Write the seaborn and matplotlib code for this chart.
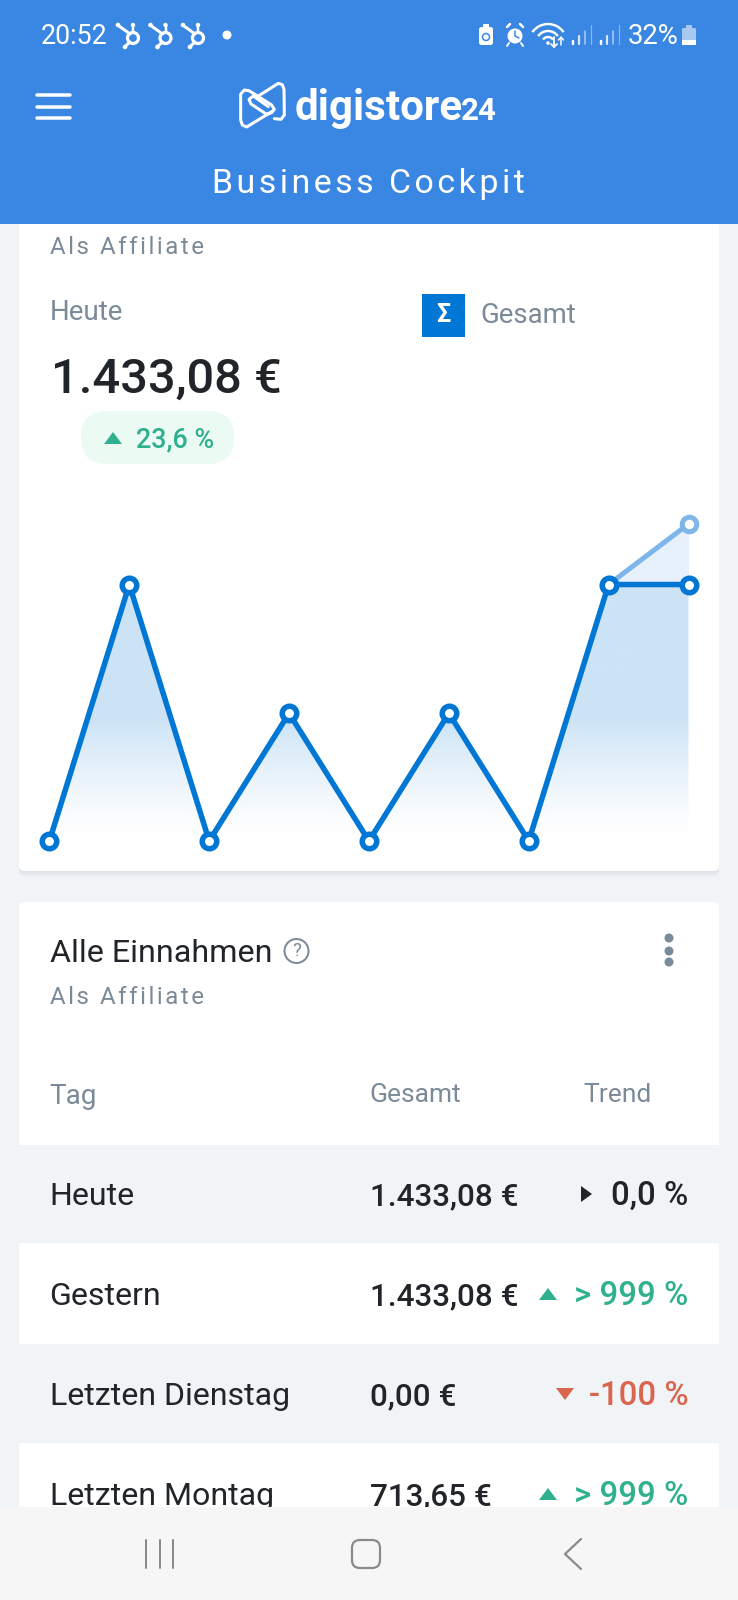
import numpy as np
import seaborn as sns
import matplotlib
matplotlib.use('Agg')
import matplotlib.pyplot as plt
from matplotlib.patches import Rectangle, FancyBboxPatch, Circle, Polygon, Arc

# ******************************
# Data
# ******************************
days = [0, 1, 2, 3, 4, 5, 6, 7, 8]
revenue = [0.0, 1433.08, 0.0, 713.65, 0.0, 713.65, 0.0, 1433.08, 1433.08]
projection_days = [7, 8]
projection = [1433.08, 1771.3]

row_labels = ['Heute', 'Gestern', 'Letzten Dienstag', 'Letzten Montag']
row_totals = ['1.433,08 €', '1.433,08 €', '0,00 €', '713,65 €']
row_trends = ['0,0 %', '> 999 %', '-100 %', '> 999 %']
row_dirs = ['flat', 'up', 'down', 'up']

# ******************************
# Style
# ******************************
W, H = 738, 1600
header_blue = '#3a86e3'
page_bg = '#f0f4f7'
line_blue = '#0077d4'
ghost_blue = '#7fb6e9'
ink = '#212529'
grey = '#7b8a99'
green = '#2fb08e'
red = '#d9654e'
dir_colors = {'flat': ink, 'up': green, 'down': red}

sns.set_theme(style='white')
plt.rcParams['font.family'] = ['Roboto', 'DejaVu Sans']

fig = plt.figure(figsize=(W / 100, H / 100), dpi=100, facecolor=page_bg)

# UI layer, in screen pixels
ui = fig.add_axes([0, 0, 1, 1], zorder=1)
ui.set_xlim(0, W)
ui.set_ylim(H, 0)
ui.axis('off')


def px(p):
    return p * 0.72


def txt(x, y, s, size, color=ink, ha='left', weight='normal', z=5):
    return ui.text(x, y, s, fontsize=size, color=color, ha=ha, va='baseline', fontweight=weight, zorder=z)


def spaced(s):
    return '\u200a'.join(s)


def triangle(cx, cy, kind, color):
    if kind == 'up':
        pts = [(cx - 9, cy + 6), (cx + 9, cy + 6), (cx, cy - 6)]
    elif kind == 'down':
        pts = [(cx - 9, cy - 6), (cx + 9, cy - 6), (cx, cy + 6)]
    else:
        pts = [(cx - 6, cy - 8), (cx - 6, cy + 8), (cx + 5, cy)]
    ui.add_patch(Polygon(pts, closed=True, facecolor=color, edgecolor='none', zorder=5))


def stroke(xs, ys, lw=3, color='white', z=6):
    ui.plot(xs, ys, color=color, lw=px(lw), solid_capstyle='round', solid_joinstyle='round', zorder=z)


# cards, the first one with a soft shadow below
for k in range(1, 7):
    ui.add_patch(FancyBboxPatch((19, 200), 700, 671 + k, boxstyle='round,pad=0,rounding_size=5',
                                facecolor='#7a8a9a', edgecolor='none', alpha=0.025, zorder=0.5))
ui.add_patch(FancyBboxPatch((19, 200), 700, 671, boxstyle='round,pad=0,rounding_size=5',
                            facecolor='white', edgecolor='none', zorder=1))
ui.add_patch(FancyBboxPatch((19, 902), 700, 660, boxstyle='round,pad=0,rounding_size=5',
                            facecolor='white', edgecolor='none', zorder=1))
ui.add_patch(Rectangle((19, 1145), 700, 98, facecolor=page_bg, edgecolor='none', zorder=1.5))
ui.add_patch(Rectangle((19, 1344), 700, 99, facecolor=page_bg, edgecolor='none', zorder=1.5))

# header
ui.add_patch(Rectangle((0, 0), W, 224, facecolor=header_blue, edgecolor='none', zorder=3))
txt(41, 44, '20:52', 19.3, 'white', z=6)
for hx in [133, 165.5, 198]:
    ui.add_patch(Circle((hx, 38), 5.5, facecolor='none', edgecolor='white', lw=px(3.2), zorder=6))
    stroke([hx - 14, hx - 3], [26, 34], 3)
    stroke([hx, hx], [26, 32], 2.5)
    stroke([hx - 8, hx - 3], [46.5, 42], 3)
    ui.add_patch(Circle((hx - 15, 25), 2.3, facecolor='white', edgecolor='none', zorder=6))
    ui.add_patch(Circle((hx - 8, 47), 2.3, facecolor='white', edgecolor='none', zorder=6))
    ui.add_patch(Circle((hx, 25), 2.2, facecolor='white', edgecolor='none', zorder=6))
ui.add_patch(Circle((227, 35), 4.5, facecolor='white', edgecolor='none', zorder=6))

# status icons on the right
ui.add_patch(FancyBboxPatch((479, 27), 14, 18, boxstyle='round,pad=0,rounding_size=2.5',
                            facecolor='white', edgecolor='none', zorder=6))
ui.add_patch(Rectangle((483, 24), 6, 4, facecolor='white', edgecolor='none', zorder=6))
ui.add_patch(Circle((486, 37), 3.5, facecolor='none', edgecolor=header_blue, lw=px(1.5), zorder=7))
ui.add_patch(Circle((515, 36), 7.5, facecolor='white', edgecolor='none', zorder=6))
stroke([515, 515, 519], [31, 36, 38], 1.5, header_blue, 7)
stroke([507, 510], [27, 24], 2.5)
stroke([523, 520], [27, 24], 2.5)
stroke([509, 507], [43, 46], 2)
stroke([521, 523], [43, 46], 2)
for r in [6, 12, 19]:
    ui.add_patch(Arc((548, 43), 2 * r, 2 * r, theta1=215, theta2=325, edgecolor='white', lw=px(2.4), zorder=6))
ui.add_patch(Circle((548, 43), 1.8, facecolor='white', edgecolor='none', zorder=6))
stroke([554, 554], [37, 47], 1.8)
stroke([551, 554, 557], [44, 47, 44], 1.8)
stroke([561, 561], [38, 45], 1.5)
stroke([558.5, 561, 563.5], [40, 37, 40], 1.5)
for bx0 in [573, 601]:
    stroke([bx0, bx0], [41, 44], 2.5)
    stroke([bx0 + 6, bx0 + 6], [36, 44], 2.2, '#d8e7f9')
    stroke([bx0 + 12, bx0 + 12], [31, 44], 1.6, '#a9c8f0')
    stroke([bx0 + 18, bx0 + 18], [25, 44], 1.2, '#8db7ec')
txt(628, 44, '32%', 19.8, 'white', z=6)
ui.add_patch(FancyBboxPatch((682, 28), 14, 17, boxstyle='round,pad=0,rounding_size=1.5',
                            facecolor='#a9c8f0', edgecolor='none', zorder=6))
ui.add_patch(Rectangle((686, 25), 6, 3, facecolor='#a9c8f0', edgecolor='none', zorder=6))
ui.add_patch(Rectangle((682, 40), 14, 5, facecolor='white', edgecolor='none', zorder=6.5))

# hamburger, logo, title
for hy in [95, 107, 118]:
    stroke([37, 70], [hy, hy], 3.5)


def logo_line(pts, lw=3):
    xs = [225 + p[0] / 3 for p in pts]
    ys = [70 + p[1] / 3 for p in pts]
    stroke(xs, ys, lw)


logo_line([(140, 125), (65, 171), (52, 165), (47, 150), (47, 72), (58, 60), (72, 62), (140, 105), (148, 118), (140, 128), (125, 133), (78, 102), (72, 88), (85, 78)])
logo_line([(100, 78), (160, 40), (172, 44), (177, 58), (178, 135), (168, 148), (148, 146)])
logo_line([(85, 78), (130, 110)])
txt(295, 120, 'digistore', 30.3, 'white', weight='bold', z=6)
txt(461, 120, '24', 22.5, 'white', weight='bold', z=6)
txt(368.5, 193, spaced('Business Cockpit'), 24.4, 'white', ha='center', z=6)

# first card text
txt(50, 254, spaced('Als Affiliate'), 17.4, grey, z=2)
txt(50, 320, 'Heute', 20, grey)
ui.add_patch(Rectangle((422, 294), 43, 43, facecolor=line_blue, edgecolor='none', zorder=2))
ui.text(443.5, 315.5, 'Σ', fontsize=18, color='white', fontweight='bold', ha='center', va='center', zorder=5)
txt(480, 323, 'Gesamt', 19.8, grey)
txt(51, 393, '1.433,08 €', 35.2, ink, weight='medium')
ui.add_patch(FancyBboxPatch((81, 411), 153, 53, boxstyle='round,pad=0,rounding_size=26', facecolor='#ebfbf3',
                            edgecolor='none', zorder=2))
triangle(113, 438, 'up', green)
txt(136, 447, '23,6 %', 19.4, green, weight='medium')

# second card text
txt(50, 962, 'Alle Einnahmen', 23.2, ink)
ui.add_patch(Circle((296.5, 951), 12, facecolor='none', edgecolor=grey, lw=px(2), zorder=5))
ui.text(296.5, 951, '?', fontsize=13.5, color=grey, ha='center', va='center', zorder=5)
for dy in [938, 951, 962]:
    ui.add_patch(Circle((669, dy), 4.5, facecolor=grey, edgecolor='none', zorder=5))
txt(50, 1004, spaced('Als Affiliate'), 17.4, grey)
txt(49.5, 1104, 'Tag', 20, grey)
txt(369, 1102, 'Gesamt', 19, grey)
txt(583, 1102, 'Trend', 19, grey)

# table rows
row_base = [1205, 1305, 1405, 1505]
tri_x = {'flat': 587, 'up': 548, 'down': 565}
for label, total, trend, kind, base in zip(row_labels, row_totals, row_trends, row_dirs, row_base):
    txt(49.5, base, label, 23.1, ink)
    txt(369.5, base, total, 22.6, ink, weight='medium')
    txt(688.5, base, trend, 23.8, dir_colors[kind], ha='right', weight='medium')
    triangle(tri_x[kind], base - 11, kind, dir_colors[kind])

# nav bar
ui.add_patch(Rectangle((0, 1507), W, 93, facecolor='#f6f6f6', edgecolor='none', zorder=8))
for nx in [146, 159.5, 173]:
    stroke([nx, nx], [1540, 1568], 2, '#8a8a8a', 9)
ui.add_patch(FancyBboxPatch((352, 1540), 28, 28, boxstyle='round,pad=0,rounding_size=8', facecolor='none',
                            edgecolor='#8a8a8a', lw=px(2.2), zorder=9))
stroke([581, 565, 581], [1539, 1554, 1569], 2.2, '#8a8a8a', 9)

# ******************************
# Chart
# ******************************
ax = fig.add_axes([49.4 / W, 1 - 841 / H, 639.1 / W, 317 / H], zorder=2)
ax.patch.set_alpha(0)
ax.axis('off')

# fade under the line
stops = np.linspace(0, 1, 256)
alpha = 0.2 * np.clip(stops / 0.38, 0, 1) ** 1.3
grad = np.zeros((256, 1, 4))
grad[:, 0, :3] = matplotlib.colors.to_rgb(line_blue)
grad[:, 0, 3] = alpha
area = ax.fill_between(days, revenue, 0, color='none', linewidth=0)
img = ax.imshow(grad, extent=(0, 8, 0, 1771.3), origin='lower', aspect='auto', zorder=1)
img.set_clip_path(area.get_paths()[0], transform=ax.transData)
ax.fill_between(projection_days, [revenue[7], revenue[8]], projection, color='#e6f1fb', linewidth=0, zorder=1)

sns.lineplot(x=projection_days, y=projection, ax=ax, color=ghost_blue, lw=px(5), marker='o', markersize=px(14.5),
             markerfacecolor='white', markeredgecolor=ghost_blue, markeredgewidth=px(5), clip_on=False, zorder=3)
sns.lineplot(x=days, y=revenue, ax=ax, color=line_blue, lw=px(5.5), marker='o', markersize=px(14.5),
             markerfacecolor='white', markeredgecolor=line_blue, markeredgewidth=px(5.5), clip_on=False, zorder=4)

ax.set_xlim(0, 8)
ax.set_ylim(0, 1771.3)
ax.axis('off')

fig.savefig('out.png', dpi=100, facecolor=page_bg)
